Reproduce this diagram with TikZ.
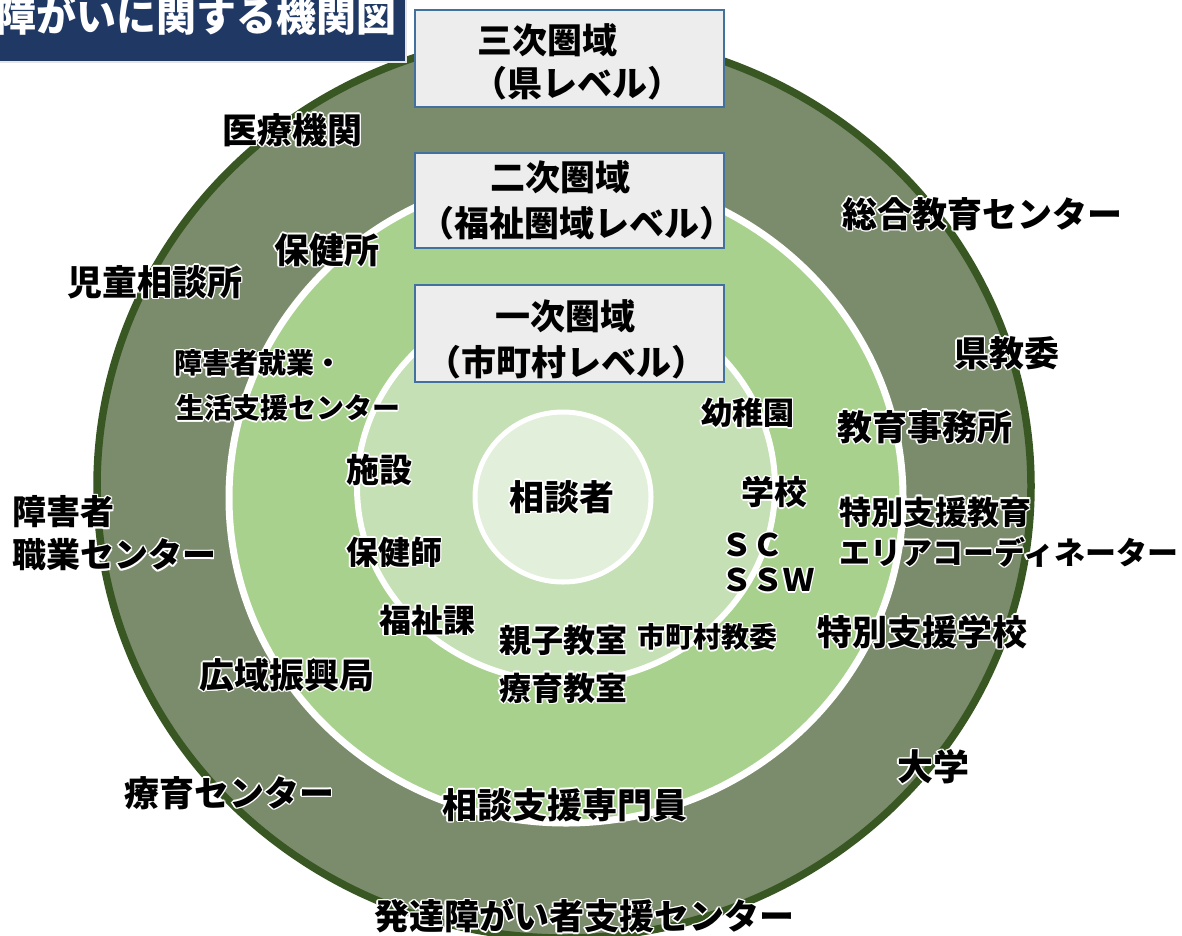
\documentclass[tikz,border=0pt]{standalone}
\usepackage{fontspec}
\newfontfamily\jp{Noto Sans CJK JP}
\definecolor{bandC}{HTML}{7B8C6C}
\definecolor{rimC}{HTML}{385723}
\definecolor{midC}{HTML}{A9D18E}
\definecolor{inC}{HTML}{C5E0B4}
\definecolor{coreC}{HTML}{E2EFDA}
\definecolor{navyC}{HTML}{203864}
\definecolor{boxC}{HTML}{EDEDED}
\definecolor{boxB}{HTML}{41719C}
\newlength\hw \setlength\hw{1.6pt}
\newcommand\hcp[2]{\rlap{\kern#1\raise#2\hbox{\textcolor{white}{\copy0}}}}
\newcommand\halo[1]{\setbox0=\hbox{#1}\hcp{\hw}{0pt}\hcp{-\hw}{0pt}\hcp{0pt}{\hw}\hcp{0pt}{-\hw}\hcp{.7\hw}{.7\hw}\hcp{-.7\hw}{.7\hw}\hcp{.7\hw}{-.7\hw}\hcp{-.7\hw}{-.7\hw}\box0}
\tikzset{
  lab/.style={inner sep=0pt, anchor=west, text=black, font=\jp\bfseries\fontsize{#1}{#1}\selectfont},
  lab/.default=35,
  lvl/.style={draw=boxB, fill=boxC, line width=1.8pt, inner sep=0pt},
  lvltxt/.style={inner sep=0pt, anchor=center, text=black, font=\jp\bfseries\fontsize{35}{35}\selectfont},
}
\begin{document}
\begin{tikzpicture}[x=1pt,y=-1pt]
\useasboundingbox (0,0) rectangle (1182,935);
\fill[white] (0,0) rectangle (1182,935);
% rings
\path[fill=bandC, draw=rimC, line width=7.5pt] (564,486) ellipse [x radius=467pt, y radius=452pt];
\path[fill=midC, draw=white, line width=7pt] (566,498) ellipse [x radius=337pt, y radius=325pt];
\path[fill=inC, draw=white, line width=6pt] (566,487) ellipse [x radius=209pt, y radius=195pt];
\path[fill=coreC, draw=white, line width=5pt] (563,497) ellipse [x radius=88pt, y radius=85pt];
% title
\fill[navyC] (0,0) rectangle (406,62);
\draw[white!80!gray, line width=1.2pt] (406,0) -- (406,62) -- (0,62);
\node[inner sep=0pt, anchor=west, text=white, font=\jp\bfseries\fontsize{40}{40}\selectfont] (title) at (-4,16) {障がいに関する機関図};
% level boxes
\node[lvl, minimum width=309pt, minimum height=97pt] (b3) at (569.5,58.5) {};
\node[lvl, minimum width=309pt, minimum height=95pt] (b2) at (569.5,200.5) {};
\node[lvl, minimum width=309pt, minimum height=97pt] (b1) at (569.5,333.5) {};
\node[lvltxt] (b3a) at (547,40) {三次圏域};
\node[lvltxt] (b3b) at (577,83) {（県レベル）};
\node[lvltxt] (b2a) at (560,177) {二次圏域};
\node[lvltxt] (b2b) at (577,223) {（福祉圏域レベル）};
\node[lvltxt] (b1a) at (565,316) {一次圏域};
\node[lvltxt] (b1b) at (566,362) {（市町村レベル）};
% centre
\node[lab=35, anchor=center] (client) at (562,497) {\halo{相談者}};
% labels
\node[lab=35] (iryo) at (222,130) {\halo{医療機関}};
\node[lab=35] (sogo) at (842,214) {\halo{総合教育センター}};
\node[lab=35] (hokenjo) at (274,250) {\halo{保健所}};
\node[lab=35] (jido) at (67,282) {\halo{児童相談所}};
\node[lab=35] (kenkyo) at (954,353) {\halo{県教委}};
\node[lab=28] (shugyo1) at (174,363) {\halo{障害者就業・}};
\node[lab=28] (shugyo2) at (176,408) {\halo{生活支援センター}};
\node[lab=31] (yochi) at (701,413) {\halo{幼稚園}};
\node[lab=35] (jimu) at (837,427) {\halo{教育事務所}};
\node[lab=33] (shisetsu) at (346,470) {\halo{施設}};
\node[lab=33] (gakko) at (741,492) {\halo{学校}};
\node[lab=34] (shoku1) at (12,512) {\halo{障害者}};
\node[lab=34] (shoku2) at (12,555) {\halo{職業センター}};
\node[lab=32] (area1) at (839,512) {\halo{特別支援教育}};
\node[lab=31] (area2) at (839,552) {\halo{エリアコーディネーター}};
\node[lab=32] (hokenshi) at (346,552) {\halo{保健師}};
\node[lab=31] (sc) at (721,545) {\halo{ＳＣ}};
\node[lab=31] (ssw) at (721,580) {\halo{ＳＳＷ}};
\node[lab=32] (fukushi) at (379,620) {\halo{福祉課}};
\node[lab=32] (oyako) at (499,640) {\halo{親子教室}};
\node[lab=32] (ryoiku) at (499,688) {\halo{療育教室}};
\node[lab=28] (shichoson) at (637,637) {\halo{市町村教委}};
\node[lab=35] (tokushi) at (817,632) {\halo{特別支援学校}};
\node[lab=35] (koiki) at (199,675) {\halo{広域振興局}};
\node[lab=36] (daigaku) at (897,767) {\halo{大学}};
\node[lab=35] (ryoikuc) at (124,793) {\halo{療育センター}};
\node[lab=35] (sodan) at (442,805) {\halo{相談支援専門員}};
\node[lab=35] (hattatsu) at (374,916) {\halo{発達障がい者支援センター}};
\end{tikzpicture}
\end{document}
